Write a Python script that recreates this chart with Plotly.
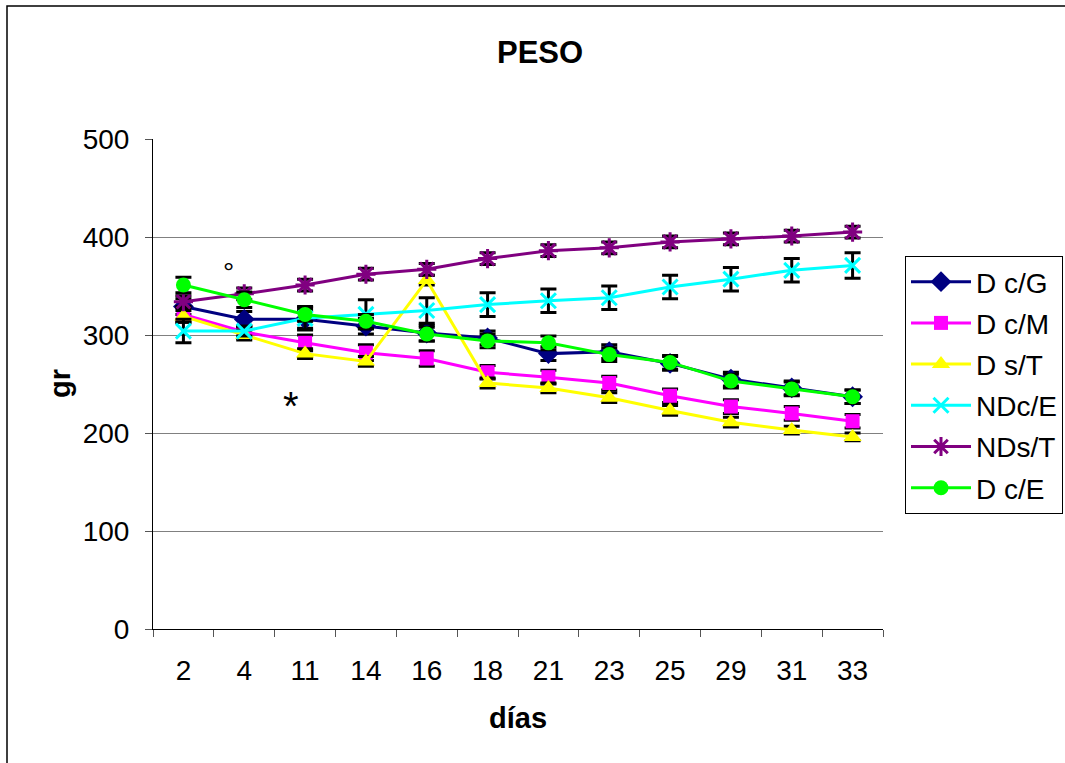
import plotly.graph_objects as go

days = ["2", "4", "11", "14", "16", "18", "21", "23", "25", "29", "31", "33"]

dcg = [329, 316, 316, 309, 302, 297, 281, 283, 271, 255, 246, 237]
dcm = [321, 303, 292, 282, 276, 262, 257, 251, 238, 227, 220, 212]
dst = [319, 300, 281, 273, 356, 251, 246, 236, 223, 211, 203, 196]
ndce = [304, 304, 317, 321, 325, 331, 335, 338, 349, 357, 366, 371]
ndst = [334, 342, 351, 362, 367, 378, 386, 389, 395, 398, 401, 405]
dce = [351, 336, 321, 314, 301, 294, 292, 280, 272, 253, 245, 237]

err_dcg = [8, 8, 9, 8, 8, 7, 7, 7, 7, 7, 7, 7]
err_dcm = [8, 6, 8, 8, 8, 7, 7, 7, 7, 7, 7, 7]
err_dst = [6, 5, 5, 5, 5, 5, 5, 5, 5, 5, 4, 4]
err_ndce = [12, 5, 12, 15, 13, 12, 12, 12, 12, 12, 12, 13]
err_ndst = [6, 6, 6, 6, 6, 6, 6, 6, 6, 6, 6, 6]
err_dce = [8, 8, 7, 7, 7, 7, 7, 7, 7, 7, 7, 7]

series = [
    ("D c/G", dcg, err_dcg, "#000080", "diamond", 16),
    ("D c/M", dcm, err_dcm, "#FF00FF", "square", 14),
    ("D s/T", dst, err_dst, "#FFFF00", "triangle-up", 16),
    ("NDc/E", ndce, err_ndce, "#00FFFF", "x-thin", 15),
    ("NDs/T", ndst, err_ndst, "#800080", "asterisk", 16),
    ("D c/E", dce, err_dce, "#00FF00", "circle", 15),
]

FONT = "Liberation Sans, Arial, sans-serif"
W, H = 1065, 763
L, R, T, B = 153, 0, 139, 134
PLOT_RIGHT = 883

fig = go.Figure()
for i, (name, vals, errs, color, sym, size) in enumerate(series):
    open_sym = sym in ("x-thin", "asterisk")
    fig.add_trace(go.Scatter(
        x=days, y=vals, name=name, mode="lines+markers",
        legendgroup=f"g{i}",
        line=dict(color=color, width=3),
        marker=dict(symbol=sym, size=size, color=color,
                    line=dict(color=color, width=3 if open_sym else 0)),
        error_y=dict(type="data", array=errs, visible=True,
                     color="black", thickness=3, width=8),
    ))

PW = W - L - R
PH = H - T - B

def px_x(px):
    return (px - L) / PW

def px_y(py):
    return (H - B - py) / PH

fig.update_layout(
    width=W, height=H,
    margin=dict(l=L, r=R, t=T, b=B, autoexpand=False),
    paper_bgcolor="white", plot_bgcolor="white",
    font=dict(family=FONT, size=28, color="black"),
    showlegend=True,
    legend=dict(
        x=px_x(905), y=px_y(256), xanchor="left", yanchor="top",
        bordercolor="black", borderwidth=1, bgcolor="white",
        font=dict(family=FONT, size=28, color="black"),
        tracegroupgap=1.8, itemwidth=60,
    ),
    xaxis=dict(
        type="category", domain=[0, px_x(PLOT_RIGHT)],
        range=[-0.5, len(days) - 0.5],
        showgrid=False, showline=True, linecolor="black",
        linewidth=1, ticks="outside", tickson="boundaries", ticklen=7,
        tickcolor="#555555", ticklabelstandoff=16, zeroline=False,
        tickfont=dict(size=28),
    ),
    yaxis=dict(
        range=[0, 500], dtick=100, showgrid=True, gridcolor="#808080",
        gridwidth=1, showline=True, linecolor="black", linewidth=1,
        ticks="outside", ticklen=7, tickcolor="#555555",
        ticklabelstandoff=10, zeroline=False, tickfont=dict(size=28),
    ),
    annotations=[
        dict(text="<b>PESO</b>", xref="paper", yref="paper",
             x=px_x(540), y=px_y(52), showarrow=False,
             font=dict(size=31), xanchor="center", yanchor="middle"),
        dict(text="<b>días</b>", xref="paper", yref="paper",
             x=px_x(518), y=px_y(718), showarrow=False,
             font=dict(size=29), xanchor="center", yanchor="middle"),
        dict(text="<b>gr</b>", xref="paper", yref="paper",
             x=px_x(60), y=px_y(384), showarrow=False, textangle=-90,
             font=dict(size=29), xanchor="center", yanchor="middle"),
        dict(text="°", xref="paper", yref="paper",
             x=px_x(228), y=px_y(272), showarrow=False,
             font=dict(size=28), xanchor="center", yanchor="middle"),
        dict(text="*", xref="paper", yref="paper",
             x=px_x(291), y=px_y(406), showarrow=False,
             font=dict(size=40), xanchor="center", yanchor="middle"),
    ],
    shapes=[
        dict(type="rect", xref="paper", yref="paper",
             x0=px_x(7), y0=px_y(790), x1=px_x(1090), y1=px_y(6),
             line=dict(color="black", width=1.5), layer="below"),
    ],
)

fig.write_html("out.html", config={"displayModeBar": False},
               post_script="document.body.style.margin='0px';")
